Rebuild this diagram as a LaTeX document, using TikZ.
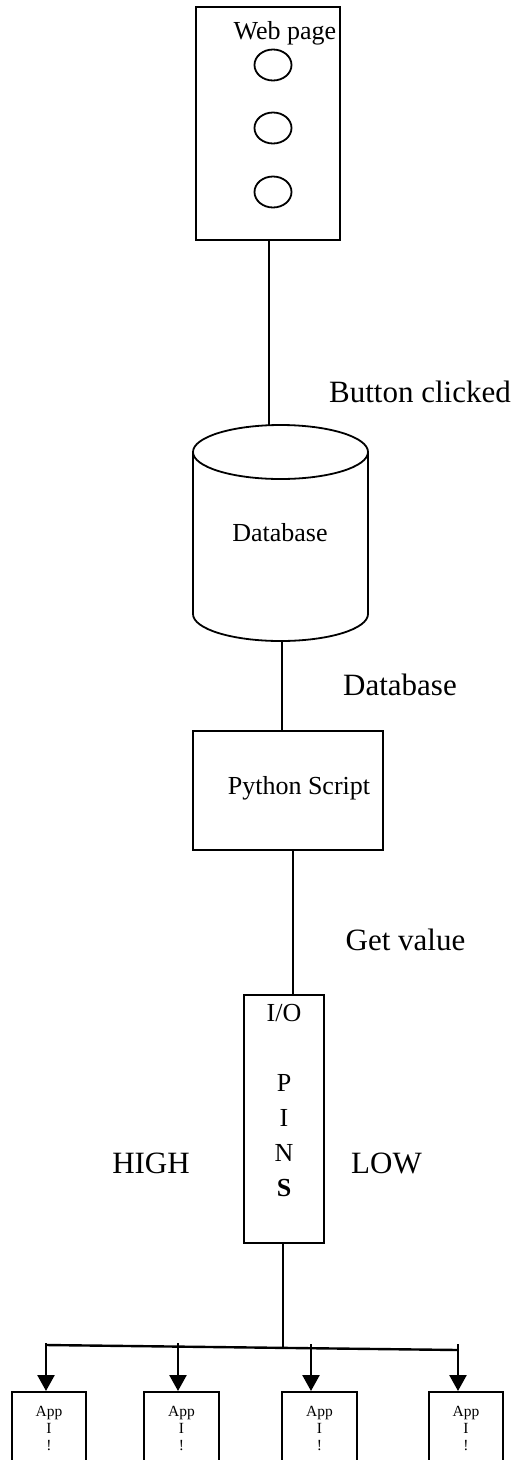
\documentclass[tikz,border=0pt]{standalone}
\usepackage{fontspec}
\setmainfont{Liberation Serif}
\usetikzlibrary{shapes.geometric,arrows.meta}
\begin{document}
\begin{tikzpicture}[x=1pt,y=-1pt, line width=1.8pt,
  box/.style={draw, rectangle, inner sep=0pt},
  lbl/.style={font=\fontsize{31}{36}\selectfont, inner sep=0pt},
  txt/.style={font=\fontsize{26}{30}\selectfont, inner sep=0pt},
  pins/.style={font=\fontsize{26}{35}\selectfont, inner sep=0pt, align=center},
  apptxt/.style={font=\fontsize{15.5}{17}\selectfont, inner sep=0pt, align=center},
  btn/.style={draw, ellipse, minimum width=37pt, minimum height=31pt, inner sep=0pt},
  arr/.style={line width=2.4pt, -{Triangle[width=17pt,length=16pt]}}
]
\useasboundingbox (0,0) rectangle (517,1460);
\clip (0,0) rectangle (517,1460);
\fill[white] (0,0) rectangle (517,1460);

% Web page
\node[box, minimum width=144pt, minimum height=233pt] (web) at (268,123.5) {};
\node[txt] (webtxt) at (285,33) {Web page};
\node[btn] (b1) at (273,65) {};
\node[btn] (b2) at (273,128) {};
\node[btn] (b3) at (273,192) {};

% Database cylinder
\coordinate (dbtop) at (269,425);
\coordinate (dbbot) at (282,641);
\draw (280.5,452) ellipse [x radius=87.5pt, y radius=27pt];
\draw (193,452) -- (193,614) arc [start angle=180, end angle=360, x radius=87.5pt, y radius=27pt] -- (368,452);
\node[txt] (db) at (280,533) {Database};

% Python script
\node[box, minimum width=190pt, minimum height=119pt] (py) at (288,790.5) {};
\node[txt] (pytxt) at (299,788) {Python Script};

% I/O pins
\node[box, minimum width=80pt, minimum height=248pt] (io) at (284,1119) {};
\node[pins, anchor=north] (iotxt) at (284,1003) {I/O\\ \\P\\I\\N\\\textbf{S}};

% labels
\node[lbl] (lbutton) at (420,392) {Button clicked};
\node[lbl] (ldb) at (400,685) {Database};
\node[lbl] (lget) at (405.5,940) {Get value};
\node[lbl] (lhigh) at (151,1163) {HIGH};
\node[lbl] (llow) at (386.5,1163) {LOW};

% connectors
\draw (web.south -| dbtop) -- (dbtop);
\draw (dbbot) -- (py.north -| dbbot);
\coordinate (pyio) at (293,0);
\draw (py.south -| pyio) -- (io.north -| pyio);
\coordinate (bj) at (283,1347.5);
\draw (io.south -| bj) -- (bj);

% apps
\node[box, minimum width=74pt, minimum height=100pt, anchor=north] (app1) at (49,1391) {};
\node[box, minimum width=75pt, minimum height=100pt, anchor=north] (app2) at (181.5,1391) {};
\node[box, minimum width=75pt, minimum height=100pt, anchor=north] (app3) at (319.5,1391) {};
\node[box, minimum width=74pt, minimum height=100pt, anchor=north] (app4) at (466,1391) {};
\foreach \i in {1,2,3,4}{
  \node[apptxt, anchor=north] (apptxt\i) at ([yshift=-14pt]app\i.north) {App\\I\\!};
}

% bus
\coordinate (busL) at (46,1345);
\coordinate (busR) at (458,1350);
\draw[line width=2.4pt] (busL) -- (busR);
\coordinate (a1) at (46,1343);
\coordinate (a2) at (178,1343);
\coordinate (a3) at (311,1344);
\coordinate (a4) at (458,1344);
\foreach \i in {1,2,3,4}{
  \draw[arr] (a\i) -- (a\i |- app\i.north);
}
\end{tikzpicture}
\end{document}
